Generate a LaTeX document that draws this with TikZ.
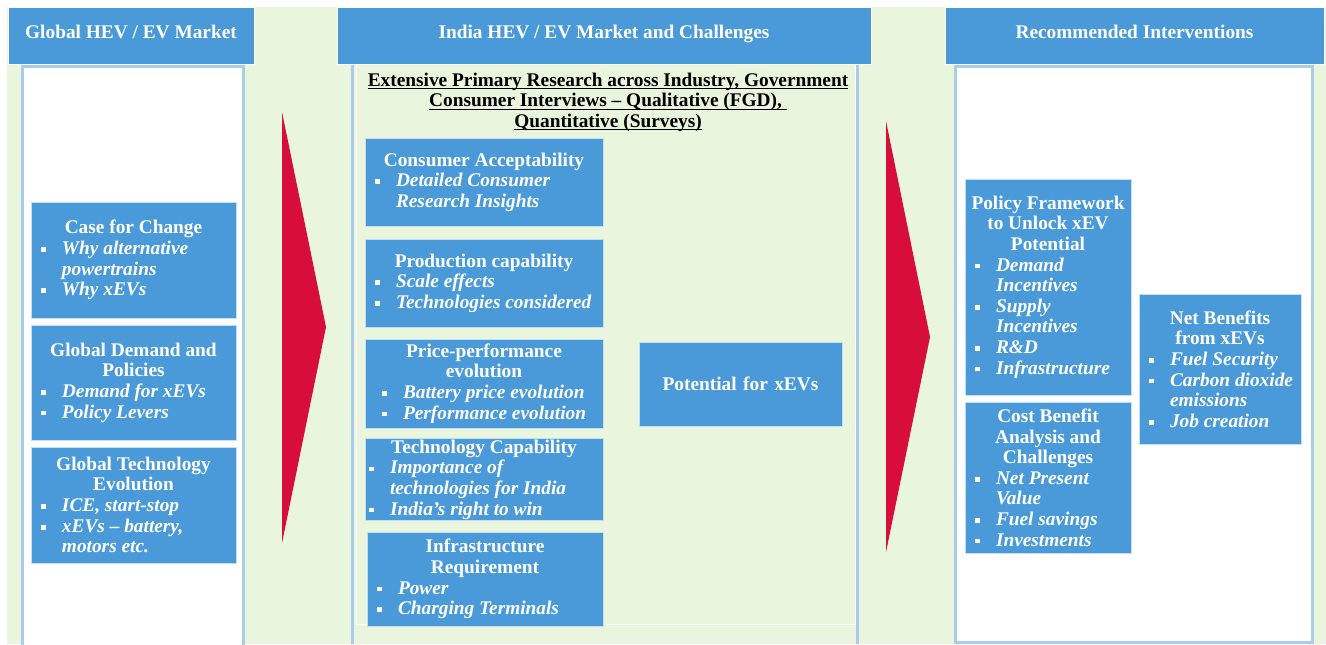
\documentclass[tikz,border=0pt]{standalone}
\usepackage{fontspec}
\setmainfont{Liberation Serif}
\usepackage{tikz}

\definecolor{bggreen}{RGB}{233,245,220}
\definecolor{boxblue}{RGB}{74,154,218}
\definecolor{boxline}{RGB}{196,222,244}
\definecolor{panelblue}{RGB}{169,204,237}
\definecolor{arrowred}{RGB}{215,14,58}

\newcommand{\boxfont}{\fontsize{14.5}{15.45}\selectfont}
\newcommand{\btitle}[1]{{\centering\bfseries #1\par}}
\newcommand{\bpt}[2][7.5pt]{\par\noindent\hangindent=\dimexpr#1+15.75pt\relax\hangafter=1
  \hbox to \dimexpr#1+15.75pt\relax{\hspace*{#1}\rule[2pt]{3.5pt}{3.5pt}\hfil}\textit{\bfseries #2}\par}
\newsavebox{\ulnbox}
\newcommand{\uln}[1]{\sbox{\ulnbox}{#1}\rlap{\rule[-2.4pt]{\wd\ulnbox}{0.8pt}}\usebox{\ulnbox}}

\tikzset{
  hdr/.style={fill=boxblue, draw=white, line width=0.5pt, text=white, font=\boxfont\bfseries,
    text height=10pt, text depth=5.5pt, inner sep=0pt},
  bbox/.style={fill=boxblue, draw=boxline, line width=0.6pt, text=white, inner xsep=0pt,
    inner ysep=1pt, align=flush left, execute at begin node={\setlength{\parindent}{0pt}}},
  sz/.style 2 args={text width=#1, minimum width=#1, minimum height=#2},
  panel/.style={draw=panelblue, line width=2.25pt},
}

\begin{document}
\begin{tikzpicture}[x=0.75pt, y=-0.75pt, every node/.style={font=\boxfont}]
    % Canvas
    \clip (0,0) rectangle (1326,644);
    \fill[white] (0,0) rectangle (1326,644);
    \fill[bggreen] (7,7) rectangle (1326,644);

    % Column panels
    \filldraw[panel, fill=white] (22,66) rectangle (243,660);
    \filldraw[panel, fill=white] (955,66) rectangle (1312,642);
    \draw[panel] (352,64) -- (352,644);
    \draw[panel] (857,64) -- (857,644);
    \draw[white, line width=0.75pt] (356,60) rectangle (855,624);

    % Headers
    \node[hdr, minimum width=184.5pt, minimum height=42.75pt] (hglobal) at (131,35.5) {Global HEV / EV Market};
    \node[hdr, minimum width=400.5pt, minimum height=42.75pt] (hindia) at (604,35.5) {India HEV / EV Market and Challenges};
    \node[hdr, minimum width=284.25pt, minimum height=42.75pt] (hreco) at (1134.5,35.5) {Recommended Interventions};

    % Arrows
    \fill[arrowred] (282,112) -- (326,327) -- (282,543) -- cycle;
    \fill[arrowred] (886,121) -- (930,337) -- (886,552) -- cycle;

    % Global market
    \node[bbox, sz={153.75pt}{87pt}] (change) at (133.5,260)
      {\btitle{Case for Change}\bpt{Why alternative\newline powertrains}\bpt{Why xEVs}};
    \node[bbox, sz={153.75pt}{86.25pt}] (demand) at (133.5,382.5)
      {\btitle{Global Demand and\\Policies}\bpt{Demand for xEVs}\bpt{Policy Levers}};
    \node[bbox, sz={153.75pt}{87pt}] (techevo) at (133.5,505)
      {\btitle{Global Technology\\Evolution}\bpt{ICE, start-stop}\bpt{xEVs -- battery,\newline motors etc.}};

    % India market
    \node[align=center, font=\boxfont\bfseries] (research) at (608,102)
      {\uln{Extensive Primary Research across Industry, Government}\\
       \uln{Consumer Interviews -- Qualitative (FGD),\ }\\
       \uln{Quantitative (Surveys)}};
    \node[bbox, sz={178.5pt}{66pt}] (consumer) at (484,182)
      {\btitle{Consumer Acceptability}\bpt{Detailed Consumer\newline Research Insights}};
    \node[bbox, sz={178.5pt}{66pt}] (production) at (484,283)
      {\btitle{Production capability}\bpt{Scale effects}\bpt{Technologies considered}};
    \node[bbox, sz={178.5pt}{66.75pt}] (price) at (484,383.5)
      {\btitle{Price-performance\\evolution}\bpt[12.75pt]{Battery price evolution}\bpt[12.75pt]{Performance evolution}};
    \node[bbox, sz={178.5pt}{59.25pt}] (techcap) at (484,479.5)
      {\btitle{Technology Capability}\bpt[3pt]{Importance of\newline technologies for India}\bpt[3pt]{India's right to win}};
    \node[bbox, sz={177pt}{70.5pt}] (infra) at (485,579)
      {\btitle{Infrastructure\\Requirement}\bpt{Power}\bpt{Charging Terminals}};
    \node[bbox, align=center, font=\boxfont\bfseries, sz={152.25pt}{63pt}] (potential) at (740.5,384)
      {Potential for xEVs};

    % Interventions
    \node[bbox, sz={124.5pt}{162pt}] (policy) at (1048,287)
      {\btitle{Policy Framework\\to Unlock xEV\\Potential}\bpt{Demand\newline Incentives}\bpt{Supply\newline Incentives}\bpt{R\&D}\bpt{Infrastructure}};
    \node[bbox, sz={124.5pt}{113.25pt}] (costben) at (1048,477.5)
      {\btitle{Cost Benefit\\Analysis and\\Challenges}\bpt{Net Present\newline Value}\bpt{Fuel savings}\bpt{Investments}};
    \node[bbox, sz={121.5pt}{112.5pt}] (netben) at (1220,369)
      {\btitle{Net Benefits\\from xEVs}\bpt{Fuel Security}\bpt{Carbon dioxide\newline emissions}\bpt{Job creation}};
\end{tikzpicture}
\end{document}
